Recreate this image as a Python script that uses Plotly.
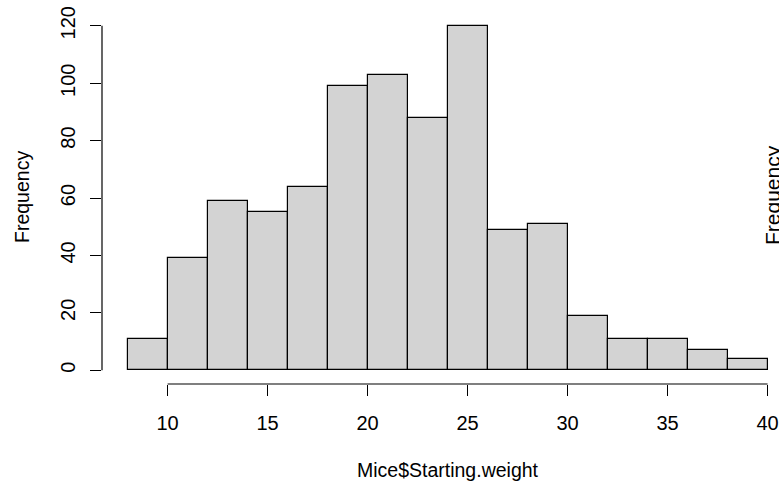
import plotly.graph_objects as go

# Histogram of starting weights: 2-unit bins from 8 to 40
bin_edges = [8, 10, 12, 14, 16, 18, 20, 22, 24, 26, 28, 30, 32, 34, 36, 38, 40]
counts = [11, 39, 59, 55, 64, 99, 103, 88, 120, 49, 51, 19, 11, 11, 7, 4]
x_ticks = [10, 15, 20, 25, 30, 35, 40]
y_ticks = [0, 20, 40, 60, 80, 100, 120]

centers = [(a + b) / 2 for a, b in zip(bin_edges[:-1], bin_edges[1:])]
widths = [b - a for a, b in zip(bin_edges[:-1], bin_edges[1:])]

FONT = "Liberation Sans, Arial, Helvetica, sans-serif"
W, H = 779, 481
ML, MR, MT, MB = 102, 0, 12, 97
plot_w = W - ML - MR

# R-style 4% axis expansion
x_lo = bin_edges[0] - 0.04 * (bin_edges[-1] - bin_edges[0])
x_scale = 20.0  # pixels per unit
x_hi = x_lo + plot_w / x_scale
y_lo = -0.04 * max(y_ticks)
y_hi = max(y_ticks) * 1.04

fig = go.Figure()
fig.add_trace(go.Bar(
    x=centers,
    y=counts,
    width=widths,
    marker=dict(color="#D3D3D3", line=dict(color="black", width=1.2)),
    hoverinfo="x+y",
))

# Axis lines spanning only the tick range, as in base graphics
fig.add_shape(type="line", xref="x", yref="paper", x0=x_ticks[0], x1=x_ticks[-1],
              y0=0, y1=0, line=dict(color="black", width=1.2))
fig.add_shape(type="line", xref="paper", yref="y", x0=0, x1=0,
              y0=y_ticks[0], y1=y_ticks[-1], line=dict(color="black", width=1.2))

plot_h = H - MT - MB
fig.add_annotation(text="Frequency", xref="paper", yref="paper",
                   x=(22 - ML) / plot_w, y=(H - MB - 197) / plot_h,
                   textangle=-90, showarrow=False, xanchor="center", yanchor="middle",
                   font=dict(family=FONT, size=19.5, color="black"))
fig.add_annotation(text="Mice$Starting.weight", xref="x", yref="paper",
                   x=(bin_edges[0] + bin_edges[-1]) / 2, y=(H - MB - 470) / plot_h,
                   showarrow=False, xanchor="center", yanchor="middle",
                   font=dict(family=FONT, size=19.5, color="black"))
# Neighbouring panel's axis title at the right edge
fig.add_annotation(text="Frequency", xref="paper", yref="paper",
                   x=(772 - ML) / plot_w, y=(H - MB - 195) / plot_h,
                   textangle=-90, showarrow=False, xanchor="center", yanchor="middle",
                   font=dict(family=FONT, size=21, color="black"))

fig.update_layout(
    width=W, height=H,
    margin=dict(l=ML, r=MR, t=MT, b=MB, pad=0),
    paper_bgcolor="white", plot_bgcolor="white",
    showlegend=False,
    bargap=0,
    font=dict(family=FONT, size=20, color="black"),
    xaxis=dict(range=[x_lo, x_hi], tickvals=x_ticks, ticktext=[str(v) for v in x_ticks],
               ticks="outside", ticklen=11, tickwidth=1.2, tickcolor="black",
               ticklabelstandoff=10,
               showline=False, showgrid=False, zeroline=False,
               tickfont=dict(family=FONT, size=20, color="black")),
    yaxis=dict(range=[y_lo, y_hi], tickvals=y_ticks, ticktext=[str(v) for v in y_ticks],
               ticks="outside", ticklen=11, tickwidth=1.2, tickcolor="black",
               tickangle=-90, ticklabelstandoff=7,
               showline=False, showgrid=False, zeroline=False,
               tickfont=dict(family=FONT, size=20, color="black")),
)

fig.write_html("out.html")
